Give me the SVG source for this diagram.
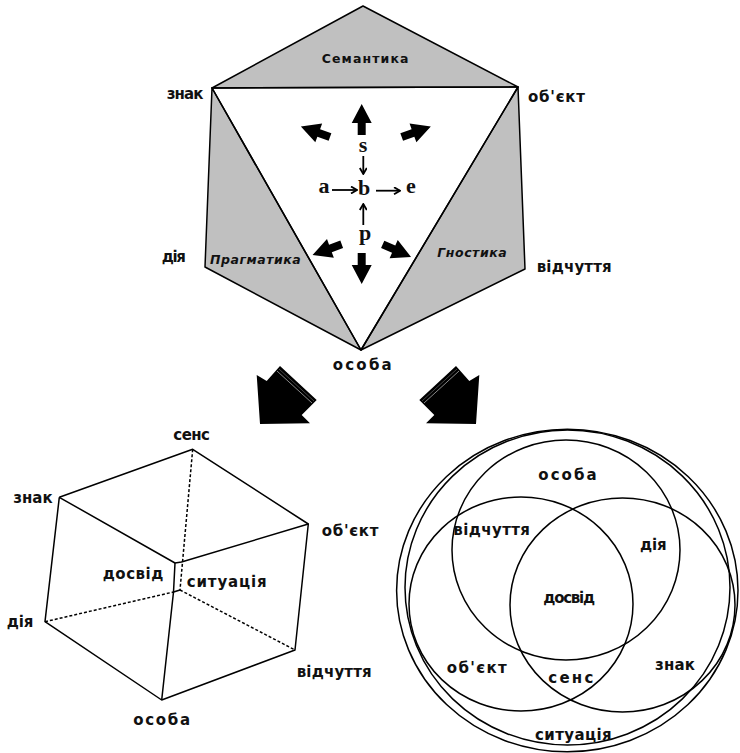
<svg xmlns="http://www.w3.org/2000/svg" width="740" height="753" viewBox="0 0 740 753">
<style>
.lbl{font-family:"DejaVu Sans","Liberation Sans",sans-serif;font-weight:bold;font-size:15px;fill:#111}
.sm{font-family:"DejaVu Sans","Liberation Sans",sans-serif;font-weight:bold;font-size:12.5px;fill:#111}
.it{font-family:"DejaVu Sans","Liberation Sans",sans-serif;font-style:italic;font-weight:bold;font-size:12.5px;fill:#111}
.ser{font-family:"Liberation Serif","DejaVu Serif",serif;font-weight:bold;font-size:22px;fill:#111;text-anchor:middle}
.edge{stroke:#000;stroke-width:1.5;fill:none;stroke-linejoin:round}
.gray{fill:#c0c0c0;stroke:#000;stroke-width:1.5;stroke-linejoin:round}
.dash{stroke:#000;stroke-width:1.5;fill:none;stroke-dasharray:3 2}
.thin{stroke:#000;stroke-width:1.8;fill:none;marker-end:url(#hd)}
.circ{fill:none;stroke:#000;stroke-width:1.5}
</style>
<defs>
<marker id="hd" viewBox="0 0 8 8" refX="7" refY="4" markerWidth="8" markerHeight="8" markerUnits="userSpaceOnUse" orient="auto">
<path d="M1,0.5 L7,4 L1,7.5" fill="none" stroke="#000" stroke-width="1.8"/>
</marker>
<path id="barrow" d="M0,-4 L12,-4 L12,-10 L31,0 L12,10 L12,4 L0,4 Z" fill="#000"/>
<g id="block">
<polygon points="256.7,375 266.7,381 280,366 316.7,400 301.7,415 310,423.3 260,424" fill="#000"/>
<line x1="277" y1="371" x2="312" y2="403" stroke="#888" stroke-width="1"/>
<line x1="279" y1="369" x2="314" y2="401" stroke="#555" stroke-width="0.8"/>
</g>
</defs>

<g id="top-figure">
<g id="semantika">
<polygon class="gray" points="363,6 212,88 518,87"/>
<text class="sm" x="321.7" y="63" textLength="86.7" lengthAdjust="spacing">Семантика</text>
</g>
<g id="pragmatika">
<polygon class="gray" points="212,88 205,267 361,350"/>
<text class="it" x="210" y="264" textLength="90.7" lengthAdjust="spacing">Прагматика</text>
</g>
<g id="gnostika">
<polygon class="gray" points="518,87 525,269 361,350"/>
<text class="it" x="437.3" y="257" textLength="69.4" lengthAdjust="spacing">Гностика</text>
</g>
<polygon class="edge" points="212,88 518,87 361,350" fill="#fff"/>
<g id="t-znak"><text class="lbl" x="166.7" y="99" textLength="36.7" lengthAdjust="spacing">знак</text></g>
<g id="t-obiekt"><text class="lbl" x="528" y="102" textLength="57" lengthAdjust="spacing">об'єкт</text></g>
<g id="t-diia"><text class="lbl" x="161.7" y="262" textLength="24.3" lengthAdjust="spacing">дія</text></g>
<g id="t-vidchuttia"><text class="lbl" x="536.7" y="272" textLength="75" lengthAdjust="spacing">відчуття</text></g>
<g id="t-osoba"><text class="lbl" x="332.7" y="370" textLength="59" lengthAdjust="spacing">особа</text></g>
<g id="letters">
<text class="ser" x="363" y="152">s</text>
<text class="ser" x="324" y="193">a</text>
<text class="ser" x="364" y="195">b</text>
<text class="ser" x="411" y="193">e</text>
<text class="ser" x="365" y="240">p</text>
</g>
<g id="thin-arrows">
<line class="thin" x1="363.3" y1="156" x2="363.3" y2="174"/>
<line class="thin" x1="332" y1="190" x2="357" y2="190"/>
<line class="thin" x1="376" y1="190.7" x2="400" y2="190.7"/>
<line class="thin" x1="363.3" y1="225" x2="363.3" y2="204"/>
</g>
<g id="bold-arrows">
<use href="#barrow" transform="translate(361.7,135) rotate(-90)"/>
<use href="#barrow" transform="translate(330,137) rotate(-160)"/>
<use href="#barrow" transform="translate(401.7,137) rotate(-20)"/>
<use href="#barrow" transform="translate(341.7,244.3) rotate(160)"/>
<use href="#barrow" transform="translate(382.7,244.3) rotate(24)"/>
<use href="#barrow" transform="translate(361.7,253) rotate(90)"/>
</g>
</g>

<g id="block-arrows">
<use href="#block"/>
<use href="#block" transform="translate(736,0) scale(-1,1)"/>
</g>

<g id="cube">
<g id="cube-edges">
<polyline class="edge" points="59.3,497.3 192.7,449.3 308.3,524 295,650 161.7,700 45,621.7 59.3,497.3"/>
<polyline class="edge" points="59.3,497.3 175,563 181.5,562 308.3,524"/>
<polyline class="edge" points="175,563 173.5,592 161.7,700"/>
<line class="edge" x1="173.5" y1="592" x2="180" y2="590"/>
<line class="dash" x1="192.7" y1="449.3" x2="180" y2="590"/>
<line class="dash" x1="45" y1="621.7" x2="173.5" y2="592"/>
<line class="dash" x1="180" y1="590" x2="295" y2="650"/>
</g>
<g id="c-sens"><text class="lbl" x="173.3" y="440" textLength="36.7" lengthAdjust="spacing">сенс</text></g>
<g id="c-znak"><text class="lbl" x="13.3" y="503" textLength="39.3" lengthAdjust="spacing">знак</text></g>
<g id="c-obiekt"><text class="lbl" x="321.7" y="536" textLength="56.7" lengthAdjust="spacing">об'єкт</text></g>
<g id="c-dosvid"><text class="lbl" x="102.7" y="579" textLength="60.7" lengthAdjust="spacing">досвід</text></g>
<g id="c-sytuatsiia"><text class="lbl" x="186.7" y="587" textLength="80" lengthAdjust="spacing">ситуація</text></g>
<g id="c-diia"><text class="lbl" x="6.7" y="627" textLength="26.7" lengthAdjust="spacing">дія</text></g>
<g id="c-vidchuttia"><text class="lbl" x="296.7" y="677" textLength="75" lengthAdjust="spacing">відчуття</text></g>
<g id="c-osoba"><text class="lbl" x="133.3" y="725" textLength="56.7" lengthAdjust="spacing">особа</text></g>
</g>

<g id="venn">
<g id="v-sytuatsiia">
<ellipse class="circ" cx="567.3" cy="590.5" rx="170.7" ry="161.3"/>
<ellipse class="circ" cx="567.5" cy="587.5" rx="162.5" ry="157.5"/>
<text class="lbl" x="535" y="740" textLength="76.7" lengthAdjust="spacing">ситуація</text>
</g>
<g id="v-osoba-c"><ellipse class="circ" cx="566" cy="550" rx="114" ry="110"/></g>
<g id="v-left-c"><ellipse class="circ" cx="521" cy="604" rx="112" ry="107"/></g>
<g id="v-right-c"><ellipse class="circ" cx="622.5" cy="605" rx="112.5" ry="107"/></g>
<g id="v-osoba"><text class="lbl" x="538.3" y="480" textLength="58.3" lengthAdjust="spacing">особа</text></g>
<g id="v-vidchuttia"><text class="lbl" x="453.3" y="535" textLength="76.7" lengthAdjust="spacing">відчуття</text></g>
<g id="v-diia"><text class="lbl" x="640" y="550" textLength="26.7" lengthAdjust="spacing">дія</text></g>
<g id="v-dosvid"><text class="lbl" x="543.3" y="603" textLength="51.7" lengthAdjust="spacing">досвід</text></g>
<g id="v-obiekt"><text class="lbl" x="446.7" y="673" textLength="60" lengthAdjust="spacing">об'єкт</text></g>
<g id="v-sens"><text class="lbl" x="548.3" y="683" textLength="45" lengthAdjust="spacing">сенс</text></g>
<g id="v-znak"><text class="lbl" x="655" y="670" textLength="40" lengthAdjust="spacing">знак</text></g>
</g>
</svg>
